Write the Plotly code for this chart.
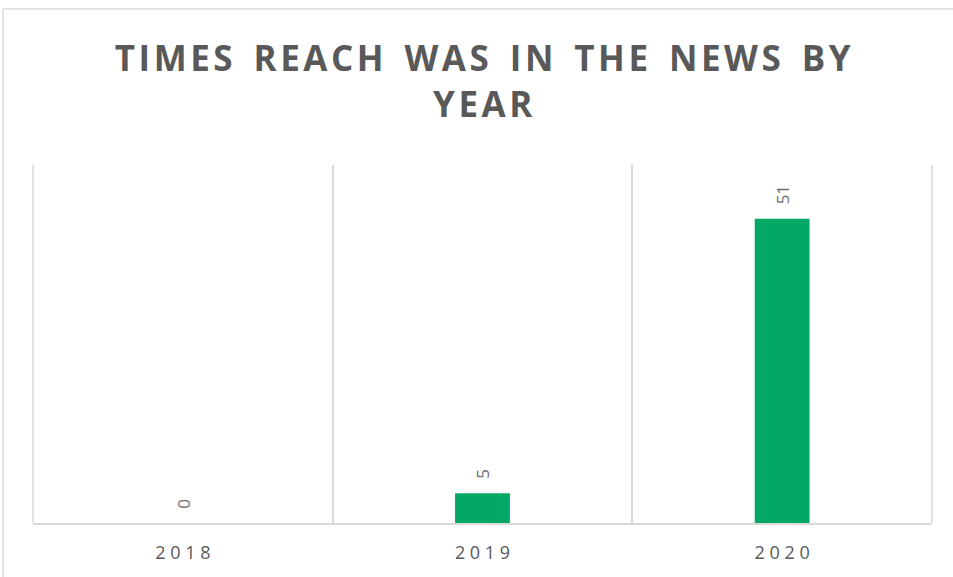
import plotly.graph_objects as go

years = ["2018", "2019", "2020"]
counts = [0, 5, 51]
title_lines = ["TIMES REACH WAS IN THE NEWS BY", "YEAR"]

GRAY = "#595959"
GRID = "#D9D9D9"
GREEN = "#04A866"

HAIR = "\u200a"
WORDGAP = "\u2002" + HAIR

def spaced(s, sep=" "):
    return sep.join(list(s))

def title_spaced(s):
    return WORDGAP.join(HAIR.join(list(w)) for w in s.split(" "))

pos = list(range(len(years)))

fig = go.Figure()
fig.add_trace(go.Bar(
    x=pos, y=counts, width=0.183,
    marker=dict(color=GREEN, line=dict(width=0)),
    hovertext=years, hoverinfo="text+y",
))

for p, v in zip(pos, counts):
    fig.add_annotation(
        x=p, y=v, text=str(v), showarrow=False, textangle=-90,
        yanchor="bottom", yshift=12,
        font=dict(family="Open Sans", size=17, color="#6E6E6E"),
    )

fig.update_layout(
    width=953, height=577,
    margin=dict(l=33, r=21, t=165, b=54),
    paper_bgcolor="white", plot_bgcolor="white",
    showlegend=False,
    title=dict(
        text="<br>".join(title_spaced(t) for t in title_lines),
        x=0.5065, xanchor="center", yref="container",
        y=1 - 71 / 577, yanchor="middle",
        font=dict(family="Open Sans", size=35, color=GRAY, weight="bold"),
    ),
)

fig.update_xaxes(
    range=[-0.5, len(years) - 0.5],
    showgrid=False,
    minor=dict(tick0=-0.5, dtick=1, showgrid=True, gridcolor=GRID, gridwidth=1.5, ticks=""),
    showline=True, linecolor=GRID, linewidth=1.5,
    ticks="", tickvals=pos, ticktext=[spaced(y) for y in years],
    tickfont=dict(family="Open Sans", size=18, color=GRAY),
    ticklabelstandoff=13,
    zeroline=False,
)
fig.update_yaxes(
    range=[0, 60], showgrid=False, showticklabels=False,
    zeroline=False, showline=False,
)

# plot-area edge lines (left / right), drawn like the gridlines
for xe in (0, 1):
    fig.add_shape(type="line", xref="paper", yref="paper",
                  x0=xe, x1=xe, y0=0, y1=1,
                  line=dict(color=GRID, width=1.5), layer="below")

# outer chart frame (paper coordinates)
fig.add_shape(type="line", xref="paper", yref="paper",
              x0=-30 / 899, x1=1.1, y0=1 + 156 / 358, y1=1 + 156 / 358,
              line=dict(color="#E3E3E3", width=2))
fig.add_shape(type="line", xref="paper", yref="paper",
              x0=-30 / 899, x1=-30 / 899, y0=-1, y1=1 + 156 / 358,
              line=dict(color="#E3E3E3", width=2))

fig.write_html("out.html")
